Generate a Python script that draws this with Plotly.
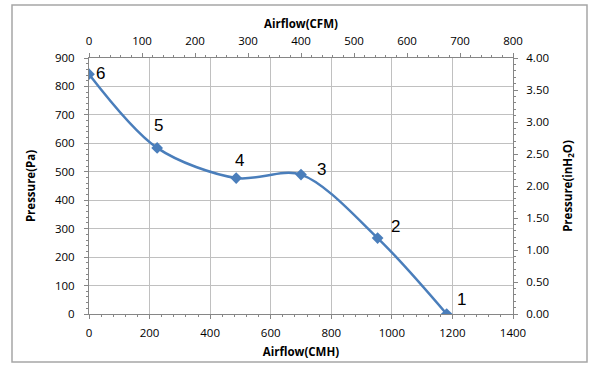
import plotly.graph_objects as go

# Data
airflow_cmh = [0, 225, 486, 700, 953, 1181]
pressure_pa = [843, 584, 478, 490, 267, 0]
point_labels = ["6", "5", "4", "3", "2", "1"]
label_dx = [11, 1, 3, 20, 18, 15]
label_dy = [-1, -22, -18, -5, -12, -15]

cmh_ticks = [0, 200, 400, 600, 800, 1000, 1200, 1400]
cfm_ticks = [0, 100, 200, 300, 400, 500, 600, 700, 800]
pa_ticks = [0, 100, 200, 300, 400, 500, 600, 700, 800, 900]
inh2o_ticks = [0, 0.5, 1.0, 1.5, 2.0, 2.5, 3.0, 3.5, 4.0]

blue = "#4A7EBB"
axcol = "#868686"
gridcol = "#C0C0C0"
font_fam = "Open Sans, Noto Sans, sans-serif"

fig = go.Figure()
fig.add_trace(go.Scatter(
    x=airflow_cmh, y=pressure_pa, mode="lines+markers",
    line=dict(color=blue, width=2.5, shape="spline", smoothing=0.9),
    marker=dict(symbol="diamond", size=9, color=blue),
    xaxis="x", yaxis="y", showlegend=False, hoverinfo="x+y"))
# invisible trace on secondary axes
fig.add_trace(go.Scatter(
    x=[v / 1.699 for v in airflow_cmh], y=[v / 249.09 for v in pressure_pa],
    mode="markers", marker=dict(opacity=0), xaxis="x2", yaxis="y2",
    showlegend=False, hoverinfo="skip"))

for x, y, t, dx, dy in zip(airflow_cmh, pressure_pa, point_labels, label_dx, label_dy):
    fig.add_annotation(x=x, y=y, xref="x", yref="y", text=t, showarrow=False,
                       xshift=dx, yshift=-dy,
                       font=dict(size=17, color="#000000", family="Liberation Sans, Arial"))

tickfont = dict(size=11.5, color="#000000", family=font_fam)
titlefont = dict(size=11.5, color="#000000", family=font_fam)

common = dict(showline=True, linecolor=axcol, linewidth=1, ticks="outside",
              ticklen=4, tickcolor=axcol, tickfont=tickfont, zeroline=False)

fig.update_layout(
    width=596, height=369,
    margin=dict(l=89, r=83, t=58, b=55),
    paper_bgcolor="white", plot_bgcolor="white",
    xaxis=dict(range=[0, 1400], tickvals=cmh_ticks, showgrid=True, gridcolor=gridcol,
               gridwidth=1, title=dict(text="<b>Airflow(CMH)</b>", font=titlefont, standoff=9),
               minor=dict(dtick=40, ticklen=2, tickcolor=axcol, ticks="outside"),
               ticklabelstandoff=4,
               **common),
    xaxis2=dict(range=[0, 800], tickvals=cfm_ticks, overlaying="x", side="top",
                showgrid=False, title=dict(text="<b>Airflow(CFM)</b>", font=titlefont, standoff=2),
                minor=dict(dtick=20, ticklen=2, tickcolor=axcol, ticks="outside"),
                ticklabelstandoff=3,
                anchor="y", **common),
    yaxis=dict(range=[0, 900], tickvals=pa_ticks, showgrid=True, gridcolor=gridcol,
               gridwidth=1, title=dict(text="<b>Pressure(Pa)</b>", font=titlefont, standoff=16),
               minor=dict(dtick=20, ticklen=2, tickcolor=axcol, ticks="outside"),
               ticklabelstandoff=7,
               **common),
    yaxis2=dict(range=[0, 4], tickvals=inh2o_ticks, tickformat=".2f", overlaying="y",
                side="right", showgrid=False,
                title=dict(text="<b>Pressure(inH<sub>2</sub>O)</b>", font=titlefont, standoff=15),
                minor=dict(dtick=0.1, ticklen=2, tickcolor=axcol, ticks="outside"),
                ticklabelstandoff=6,
                anchor="x", **common),
)

# outer chart border
fig.add_shape(type="rect", xref="paper", yref="paper",
              x0=(12 - 89) / 424, x1=(587 - 89) / 424,
              y0=(314 - 362) / 256, y1=(314 - 5) / 256,
              line=dict(color="#A6A6A6", width=1.5), layer="below")

fig.write_html("out.html")
